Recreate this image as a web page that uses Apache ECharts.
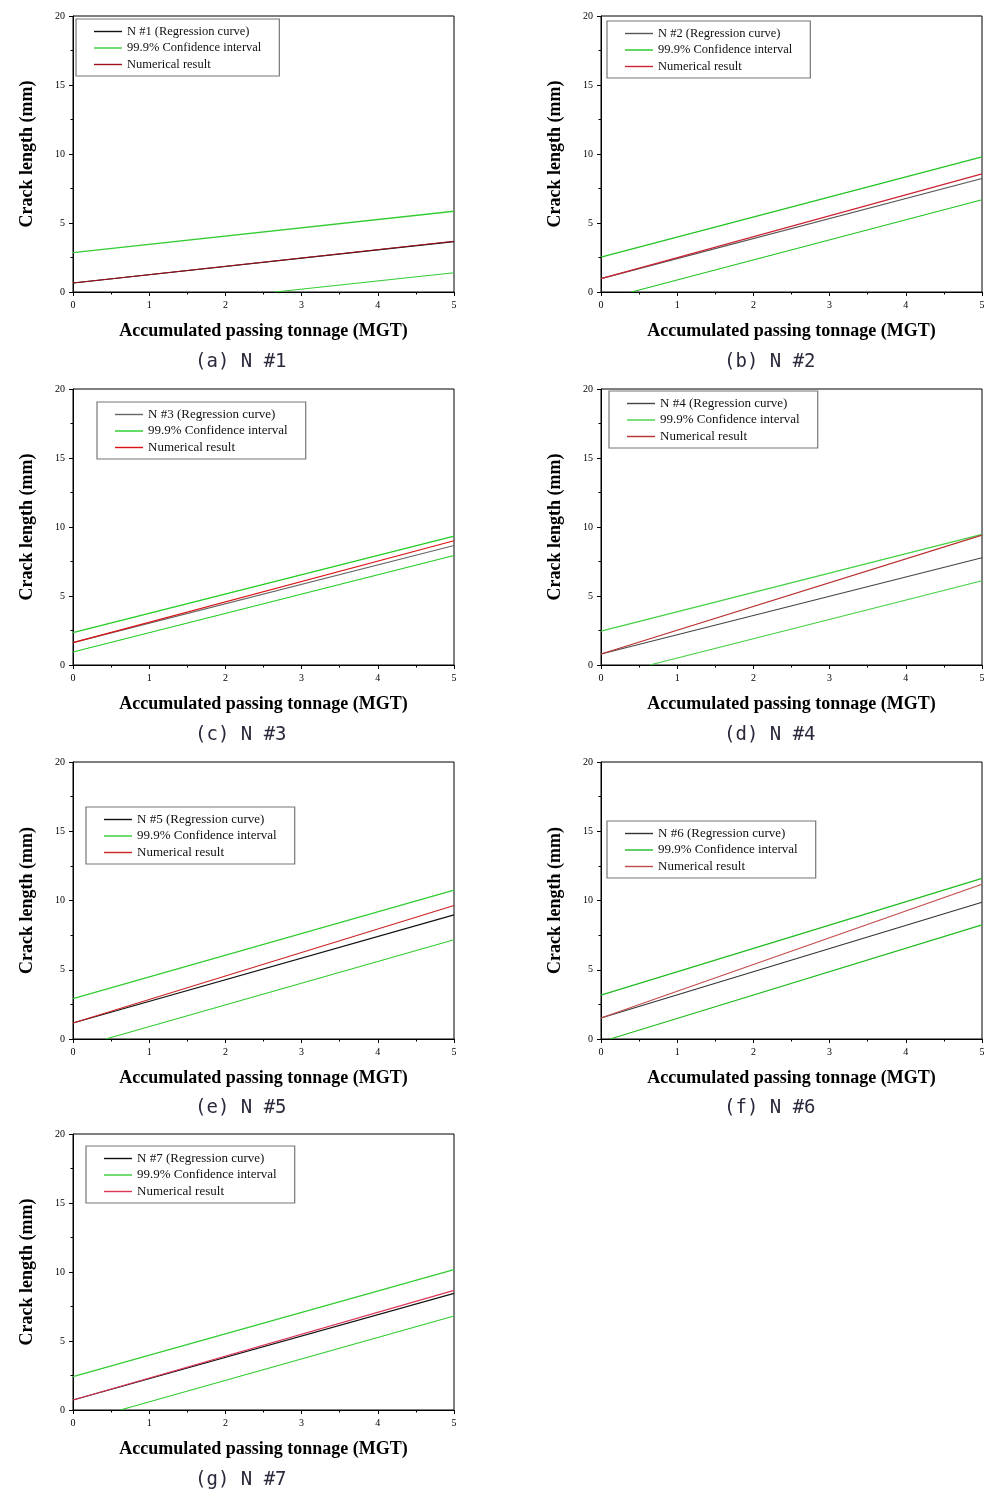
<!DOCTYPE html>
<html>
<head>
<meta charset="utf-8">
<script src="https://cdn.jsdelivr.net/npm/echarts@6/dist/echarts.min.js"></script>
<style>
html,body{margin:0;padding:0;background:#fff;}
#c{width:992px;height:1494px;}
</style>
</head>
<body>
<div id="c"></div>
<script>
// ---- data ----
const panels   = ['a', 'b', 'c', 'd', 'e', 'f', 'g'];
const specimen = ['N #1', 'N #2', 'N #3', 'N #4', 'N #5', 'N #6', 'N #7'];
const xTicks   = [0, 1, 2, 3, 4, 5];
const yTicks   = [0, 5, 10, 15, 20];
const xStart = 0, xEnd = 5;
// regression curve: value at x=0 and x=5
const regStart = [0.65, 0.97, 1.62, 0.80, 1.16, 1.52, 0.72];
const regEnd   = [3.65, 8.23, 8.66, 7.77, 8.96, 9.88, 8.45];
// numerical result: value at x=0 and x=5
const numStart = [0.65, 0.97, 1.62, 0.80, 1.16, 1.52, 0.72];
const numEnd   = [3.68, 8.56, 9.00, 9.41, 9.64, 11.18, 8.67];
// upper 99.9% confidence bound
const upStart  = [2.85, 2.53, 2.34, 2.46, 2.92, 3.16, 2.42];
const upEnd    = [5.85, 9.80, 9.34, 9.46, 10.75, 11.59, 10.17];
// lower 99.9% confidence bound: point where it enters the plot and value at x=5
const lowEntryX = [2.65, 0.40, 0, 0.64, 0.43, 0.12, 0.62];
const lowEntryY = [0, 0, 0.94, 0, 0, 0, 0];
const lowEnd    = [1.40, 6.68, 7.94, 6.10, 7.16, 8.24, 6.81];

// ---- layout / style ----
const gridPos = [
  {left: 73, top: 16}, {left: 601, top: 16},
  {left: 73, top: 389}, {left: 601, top: 389},
  {left: 73, top: 762}, {left: 601, top: 762},
  {left: 73, top: 1134}
];
const gridH = [276, 276, 276, 276, 277, 277, 276];
const legendPos = [
  {left: 76, top: 19}, {left: 607, top: 21},
  {left: 97, top: 402}, {left: 609, top: 391},
  {left: 86, top: 807}, {left: 607, top: 821},
  {left: 86, top: 1146}
];
const captionPos = [
  {left: 195, top: 353}, {left: 724, top: 353},
  {left: 195, top: 726}, {left: 724, top: 726},
  {left: 195, top: 1099}, {left: 724, top: 1099},
  {left: 195, top: 1471}
];
const regColor = ['#111111', '#555555', '#666666', '#444444', '#111111', '#333333', '#111111'];
const numColor = ['#a0101e', '#cc2233', '#dd1111', '#b83030', '#cc2222', '#c24a4a', '#dd3355'];
const ciColor  = ['#33cc33', '#22c422', '#22cc22', '#44d044', '#33cc33', '#22bb22', '#33cc33'];
const legFont  = [12.5, 12.5, 13, 13, 13, 13, 13];

const serif = '"Liberation Serif","Times New Roman",serif';
const SEP = '|';
const lineIcon = 'path://M0,0 L28,0 L28,1.4 L0,1.4 Z';

const option = {
  animation: false,
  backgroundColor: '#fff',
  title: [], grid: [], xAxis: [], yAxis: [], legend: [], series: []
};

panels.forEach((p, i) => {
  const regName = specimen[i] + ' (Regression curve)' + SEP + p;
  const ciName = '99.9% Confidence interval' + SEP + p;
  const numName = 'Numerical result' + SEP + p;

  option.grid.push({
    left: gridPos[i].left, top: gridPos[i].top, width: 381, height: gridH[i],
    show: true, borderColor: '#000', borderWidth: 1, backgroundColor: 'transparent'
  });
  option.xAxis.push({
    type: 'value', gridIndex: i, min: xTicks[0], max: xTicks[xTicks.length - 1], interval: 1,
    name: 'Accumulated passing tonnage (MGT)', nameLocation: 'middle', nameGap: 30,
    nameTextStyle: {fontFamily: serif, fontWeight: 'bold', fontSize: 18, color: '#000'},
    axisLine: {show: true, onZero: false, lineStyle: {color: '#000', width: 1}},
    axisTick: {show: true, length: 4, lineStyle: {color: '#000'}},
    minorTick: {show: true, splitNumber: 2, length: 2.5, lineStyle: {color: '#000'}},
    splitLine: {show: false},
    axisLabel: {fontFamily: serif, fontSize: 10, color: '#000', margin: 8}
  });
  option.yAxis.push({
    type: 'value', gridIndex: i, min: yTicks[0], max: yTicks[yTicks.length - 1], interval: 5,
    name: 'Crack length (mm)', nameLocation: 'middle', nameGap: 37,
    nameTextStyle: {fontFamily: serif, fontWeight: 'bold', fontSize: 18, color: '#000'},
    axisLine: {show: true, onZero: false, lineStyle: {color: '#000', width: 1}},
    axisTick: {show: true, length: 4, lineStyle: {color: '#000'}},
    minorTick: {show: true, splitNumber: 2, length: 2.5, lineStyle: {color: '#000'}},
    splitLine: {show: false},
    axisLabel: {fontFamily: serif, fontSize: 10, color: '#000', margin: 8}
  });
  option.title.push({
    text: '(' + p + ') ' + specimen[i],
    left: captionPos[i].left, top: captionPos[i].top, padding: 0,
    textStyle: {fontFamily: '"DejaVu Sans Mono", monospace', fontWeight: 'normal', fontSize: 19, color: '#2a2a3c'}
  });
  option.legend.push({
    orient: 'vertical', left: legendPos[i].left, top: legendPos[i].top,
    padding: [6, 18, 5, 18], itemGap: 3.5, itemWidth: 28, itemHeight: 12,
    icon: lineIcon,
    borderColor: '#777', borderWidth: 1.2, backgroundColor: '#fff',
    selectedMode: false,
    formatter: n => n.split(SEP)[0],
    textStyle: {fontFamily: serif, fontSize: legFont[i], color: '#111'},
    data: [regName, ciName, numName]
  });
  const common = {type: 'line', xAxisIndex: i, yAxisIndex: i, symbol: 'none', showSymbol: false, silent: true, clip: true};
  option.series.push(Object.assign({}, common, {
    name: ciName, itemStyle: {color: ciColor[i]}, lineStyle: {color: ciColor[i], width: 1.3},
    data: [[xStart, upStart[i]], [xEnd, upEnd[i]]]
  }));
  option.series.push(Object.assign({}, common, {
    name: ciName, itemStyle: {color: ciColor[i]}, lineStyle: {color: ciColor[i], width: 1.1},
    data: [[lowEntryX[i], lowEntryY[i]], [xEnd, lowEnd[i]]]
  }));
  option.series.push(Object.assign({}, common, {
    name: regName, itemStyle: {color: regColor[i]}, lineStyle: {color: regColor[i], width: 1.1},
    data: [[xStart, regStart[i]], [xEnd, regEnd[i]]]
  }));
  option.series.push(Object.assign({}, common, {
    name: numName, itemStyle: {color: numColor[i]}, lineStyle: {color: numColor[i], width: 1.1},
    data: [[xStart, numStart[i]], [xEnd, numEnd[i]]]
  }));
});

const chart = echarts.init(document.getElementById('c'), null, {renderer: 'canvas'});
chart.setOption(option);
</script>
</body>
</html>
